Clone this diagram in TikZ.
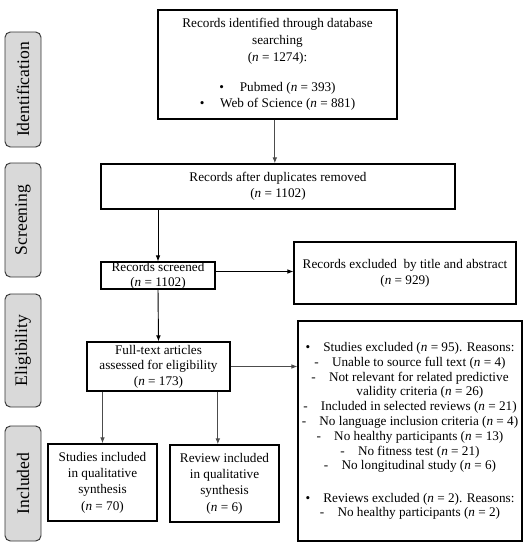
\documentclass[tikz,border=0pt]{standalone}
\usepackage{fontspec}
\setmainfont{Liberation Serif}
\usepackage{tikz}
\usetikzlibrary{arrows.meta}
\newcommand{\nc}{\textit{n}}

\begin{document}
\begin{tikzpicture}[x=0.75pt,y=-0.75pt,>={Latex[length=4.5pt,width=3.5pt]},
  box/.style={draw=black,line width=0.9pt,align=center,inner sep=0pt,font=\fontsize{9.9}{12.2}\selectfont},
  phase/.style={draw=black!80,line width=0.7pt,fill=black!15,rounded corners=4pt,rotate=90,inner sep=0pt,
    minimum height=27pt,font=\fontsize{13.2}{15}\selectfont}]
\useasboundingbox (0,0) rectangle (529,550);

% phases
\node[phase,minimum width=86.25pt] (ident) at (23,89.5) {Identification};
\node[phase,minimum width=85.5pt] (scr) at (23,220) {Screening};
\node[phase,minimum width=84.75pt] (elig) at (23,350.5) {Eligibility};
\node[phase,minimum width=86.25pt] (incl) at (23,483.5) {Included};

% boxes
\node[box,minimum width=179.25pt,minimum height=81.75pt,font=\fontsize{9.9}{12.5}\selectfont] (found) at (277.5,64.5)
  {Records identified through database\\searching\\(\nc{} = 1274):\\[10pt]
   \textbullet\hspace{1.2em}Pubmed (\nc{} = 393)\\
   \textbullet\hspace{1.2em}Web of Science (\nc{} = 881)};
\node[box,minimum width=265.5pt,minimum height=33.75pt] (dup) at (278,186.5)
  {Records after duplicates removed\\(\nc{} = 1102)};
\node[box,minimum width=85.5pt,minimum height=20.25pt,font=\fontsize{9.9}{11.2}\selectfont] (screened) at (158,275.5)
  {Records screened\\(\nc{} = 1102)};
\node[box,minimum width=166.5pt,minimum height=46.5pt] (titleexcl) at (405,273)
  {Records excluded\ \ by title and abstract\\(\nc{} = 929)};
\node[box,minimum width=107.25pt,minimum height=36.75pt,font=\fontsize{9.9}{11.6}\selectfont] (fulltext) at (158.5,366.5)
  {Full-text articles\\assessed for eligibility\\(\nc{} = 173)};
\node[box,minimum width=168pt,minimum height=165pt,font=\fontsize{9.9}{11.1}\selectfont] (reasons) at (410,431)
  {\textbullet\hspace{1em}Studies excluded (\nc{} = 95). Reasons:\\
   -\hspace{1em}Unable to source full text (\nc{} = 4)\\
   -\hspace{1em}Not relevant for related predictive\\
   \hspace{1.5em}validity criteria (\nc{} = 26)\\
   -\hspace{1em}Included in selected reviews (\nc{} = 21)\\
   -\hspace{1em}No language inclusion criteria (\nc{} = 4)\\
   -\hspace{1em}No healthy participants (\nc{} = 13)\\
   -\hspace{1em}No fitness test (\nc{} = 21)\\
   -\hspace{1em}No longitudinal study (\nc{} = 6)\\[13pt]
   \textbullet\hspace{1em}Reviews excluded (\nc{} = 2). Reasons:\\
   -\hspace{1em}No healthy participants (\nc{} = 2)};
\node[box,minimum width=81.75pt,minimum height=57.75pt] (studies) at (102.5,482.5)
  {Studies included\\in qualitative\\synthesis\\(\nc{} = 70)};
\node[box,minimum width=81.75pt,minimum height=57.75pt] (review) at (224.5,483.5)
  {Review included\\in qualitative\\synthesis\\(\nc{} = 6)};

% arrows
\draw[->,black!70,line width=0.8pt] ([xshift=-2pt]found.south) -- ([xshift=-2pt]found.south |- dup.north);
\draw[->,line width=0.7pt] (screened.north |- dup.south) -- (screened.north);
\draw[->,line width=0.7pt] ([yshift=3pt]screened.east) -- ([yshift=3pt]screened.east -| titleexcl.west);
\draw[->,line width=0.7pt] (screened.south) -- (fulltext.north);
\draw[->,black!70,line width=0.7pt] (fulltext.east) -- (fulltext.east -| reasons.west);
\draw[->,black!70,line width=0.8pt] (studies.north |- fulltext.south) -- (studies.north);
\draw[->,black!70,line width=0.8pt] ([xshift=-5pt]review.north |- fulltext.south) -- ([xshift=-5pt]review.north);

\end{tikzpicture}
\end{document}
